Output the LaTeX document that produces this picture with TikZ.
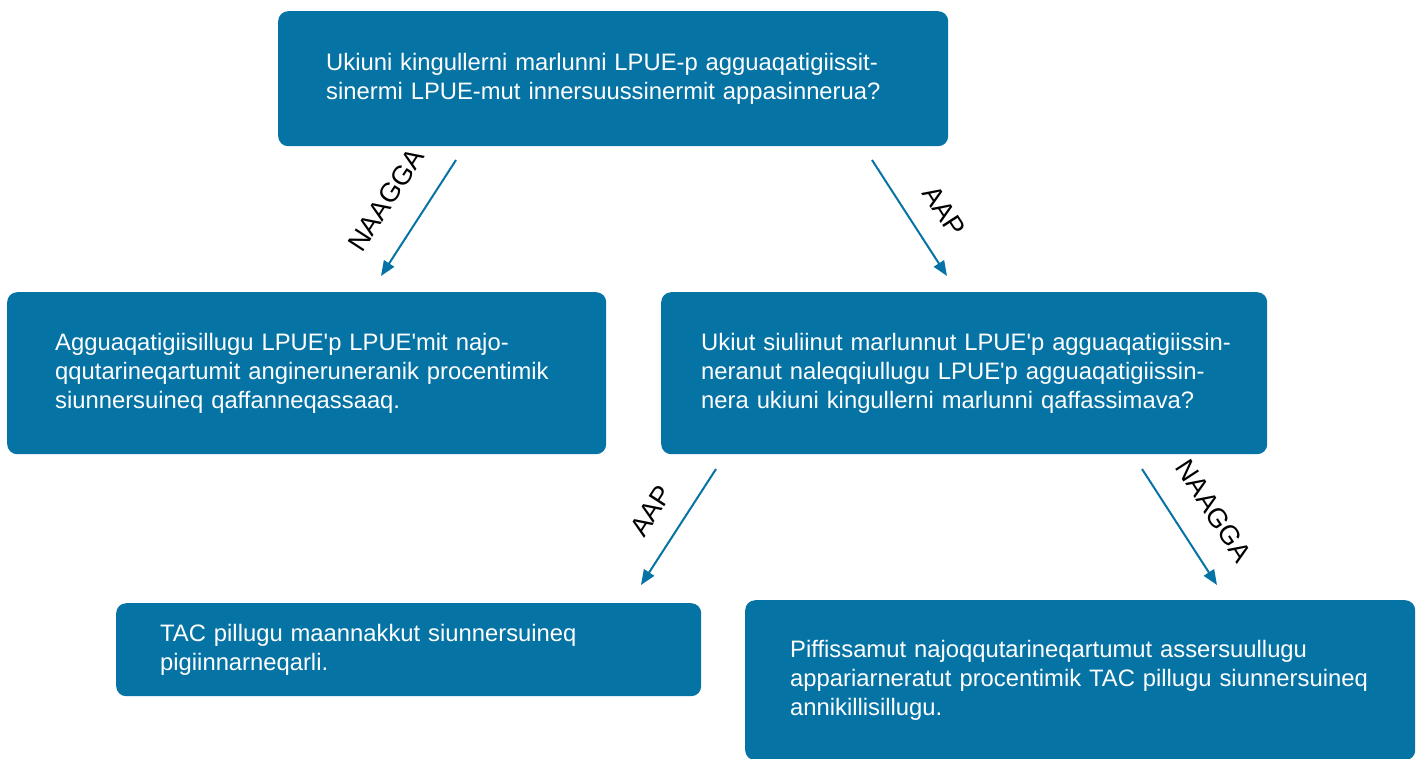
\documentclass[tikz,border=0pt]{standalone}
\usepackage{fontspec}
\setmainfont{Liberation Sans}
\usetikzlibrary{arrows.meta}
\definecolor{boxblue}{HTML}{0673A5}
\newcommand{\apo}{\textquotesingle}
\begin{document}
\begin{tikzpicture}[x=1pt,y=-1pt,
  box/.style={fill=boxblue, rounded corners=10pt, text=white, align=left,
    font=\fontsize{23.8}{29}\selectfont, anchor=north west, inner ysep=0pt},
  conn/.style={draw=boxblue, line width=2pt, -{Stealth[length=15pt,width=12pt,inset=0pt]}},
  lbl/.style={font=\fontsize{27}{30}\selectfont, text=black, inner sep=0pt}]
\useasboundingbox (0,0) rectangle (1421,758);
\node[box, minimum width=670pt, minimum height=135pt, text width=574pt, inner xsep=48pt] (q1) at (278,11)
 {\mbox{Ukiuni kingullerni marlunni LPUE-p agguaqatigiissit-}\\\mbox{sinermi LPUE-mut innersuussinermit appasinnerua?}};
\node[box, minimum width=599pt, minimum height=162pt, text width=503pt, inner xsep=48pt] (r1) at (7,292)
 {\mbox{Agguaqatigiisillugu LPUE\apo p LPUE\apo mit najo-}\\\mbox{qqutarineqartumit angineruneranik procentimik}\\\mbox{siunnersuineq qaffanneqassaaq.}};
\node[box, minimum width=606pt, minimum height=162pt, text width=526pt, inner xsep=40pt] (q2) at (661,292)
 {\mbox{Ukiut siuliinut marlunnut LPUE\apo p agguaqatigiissin-}\\\mbox{neranut naleqqiullugu LPUE\apo p agguaqatigiissin-}\\\mbox{nera ukiuni kingullerni marlunni qaffassimava?}};
\node[box, minimum width=585pt, minimum height=93pt, text width=497pt, inner xsep=44pt] (r2) at (116,603)
 {\mbox{TAC pillugu maannakkut siunnersuineq}\\\mbox{pigiinnarneqarli.}};
\node[box, minimum width=670pt, minimum height=160pt, text width=580pt, inner xsep=45pt] (r3) at (745,600)
 {\mbox{Piffissamut najoqqutarineqartumut assersuullugu}\\\mbox{appariarneratut procentimik TAC pillugu siunnersuineq}\\\mbox{annikillisillugu.}};
\coordinate (a1s) at (456,160); \coordinate (a1e) at (381,276);
\coordinate (a2s) at (872,160); \coordinate (a2e) at (947,276);
\coordinate (a3s) at (716,469); \coordinate (a3e) at (641,585);
\coordinate (a4s) at (1142,469); \coordinate (a4e) at (1217,585);
\draw[conn] (a1s) -- (a1e);
\draw[conn] (a2s) -- (a2e);
\draw[conn] (a3s) -- (a3e);
\draw[conn] (a4s) -- (a4e);
\node[lbl, rotate=57] (l1) at (386,200) {NAAGGA};
\node[lbl, rotate=-57] (l2) at (944,211) {AAP};
\node[lbl, rotate=57] (l3) at (651,511) {AAP};
\node[lbl, rotate=-57] (l4) at (1214,511) {NAAGGA};
\end{tikzpicture}
\end{document}
